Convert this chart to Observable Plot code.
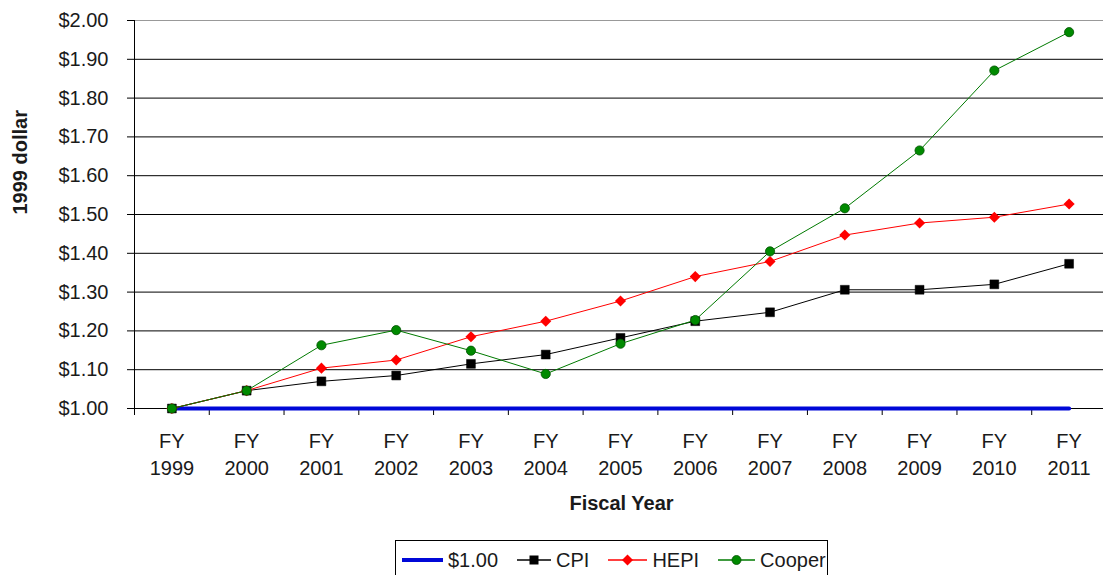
<!DOCTYPE html>
<html>
<head>
<meta charset="utf-8">
<script src="https://cdn.jsdelivr.net/npm/d3@7"></script>
<script src="https://cdn.jsdelivr.net/npm/@observablehq/plot@0.6"></script>
<style>
  html, body { margin: 0; padding: 0; background: #fff; width: 1103px; height: 575px; overflow: hidden; }
  #wrap { position: relative; width: 1103px; height: 575px; font-family: "Liberation Sans", Arial, sans-serif; }
  #legend { position: absolute; left: 395px; top: 540px; width: 433px; height: 40px; border: 1px solid #000;
            box-sizing: border-box; display: flex; align-items: flex-start; padding: 9px 0 0 6px; font-size: 20px; color: #1a1a1a; }
  #legend .item { display: flex; align-items: center; margin-right: 19px; line-height: 20px; }
  #legend svg { margin-right: 5px; }
</style>
</head>
<body>
<div id="wrap"></div>
<script>
// ---- data ----
const years = ["1999","2000","2001","2002","2003","2004","2005","2006","2007","2008","2009","2010","2011"];
const base = [1.00,1.00,1.00,1.00,1.00,1.00,1.00,1.00,1.00,1.00,1.00,1.00,1.00];
const cpi = [1.000,1.046,1.070,1.085,1.115,1.139,1.182,1.225,1.248,1.306,1.306,1.320,1.373];
const hepi = [1.000,1.046,1.104,1.125,1.185,1.225,1.277,1.340,1.379,1.447,1.478,1.493,1.527];
const cooper = [1.000,1.046,1.163,1.202,1.149,1.089,1.167,1.228,1.405,1.516,1.665,1.871,1.970];
const yTicks = [1.0,1.1,1.2,1.3,1.4,1.5,1.6,1.7,1.8,1.9,2.0];
const seriesNames = ["$1.00","CPI","HEPI","Cooper"];

const rows = (vals, s) => years.map((y, i) => ({year: y, value: vals[i], series: s}));
const dBase = rows(base, "$1.00");
const dCpi = rows(cpi, "CPI");
const dHepi = rows(hepi, "HEPI");
const dCooper = rows(cooper, "Cooper");

const W = 1103, ML = 134, MR = -3;
const step = (W - ML - MR) / years.length;

const blue = "#0008d8", red = "#ff0000", green = "#007a00";

const chart = Plot.plot({
  width: W,
  height: 530,
  marginLeft: ML,
  marginRight: MR,
  marginTop: 20,
  marginBottom: 122,
  style: {fontFamily: "'Liberation Sans', Arial, sans-serif", fontSize: "20px", color: "#1a1a1a", background: "#fff", overflow: "visible"},
  x: {type: "point", domain: years, padding: 0.5, round: false},
  y: {domain: [1, 2]},
  marks: [
    // gridlines
    Plot.ruleY(yTicks.filter(t => t < 2), {y: d => d, stroke: "#000", strokeWidth: 1}),
    Plot.ruleY(yTicks.filter(t => t >= 2), {y: d => d, stroke: "#999", strokeWidth: 1}),
    // y axis
    Plot.axisY({ticks: yTicks, tickSize: 7, tickPadding: 19, tickFormat: d => "$" + d.toFixed(2), fontSize: 20, label: null, stroke: "#000"}),
    Plot.ruleX([years[0]], {x: d => d, y1: 1, y2: 2, dx: -step / 2, stroke: "#000"}),
    // x boundary ticks
    Plot.axisX({ticks: years, tickSize: 7, dx: -step / 2, text: null, label: null, stroke: "#000"}),
    // x labels
    Plot.axisX({ticks: years, tickSize: 0, tickPadding: 20, tickFormat: d => "FY\n" + d, lineHeight: 1.35, fontSize: 20, label: null}),
    // axis titles
    Plot.text(["1999 dollar"], {text: d => d, frameAnchor: "left", dx: -114, rotate: -90, fontWeight: "bold", fontSize: 20}),
    Plot.text(["Fiscal Year"], {text: d => d, frameAnchor: "bottom", dy: 101, dx: 1, fontWeight: "bold", fontSize: 20}),
    // series
    Plot.line(dBase, {x: "year", y: "value", stroke: blue, strokeWidth: 4}),
    Plot.line(dCpi, {x: "year", y: "value", stroke: "#000", strokeWidth: 1}),
    Plot.dot(dCpi, {x: "year", y: "value", symbol: "square", r: 5, fill: "#000", stroke: "#000", strokeWidth: 0.5}),
    Plot.line(dHepi, {x: "year", y: "value", stroke: red, strokeWidth: 1}),
    Plot.dot(dHepi, {x: "year", y: "value", symbol: "diamond2", r: 5, fill: red, stroke: "none"}),
    Plot.line(dCooper, {x: "year", y: "value", stroke: green, strokeWidth: 1}),
    Plot.dot(dCooper, {x: "year", y: "value", symbol: "circle", r: 4.6, fill: "#008a00", stroke: "#005000", strokeWidth: 0.8})
  ]
});

const wrap = document.getElementById("wrap");
wrap.appendChild(chart);

// legend
const legend = document.createElement("div");
legend.id = "legend";
const sym = {
  "$1.00": `<svg width="41" height="12"><line x1="0" y1="6" x2="41" y2="6" stroke="${blue}" stroke-width="4"/></svg>`,
  "CPI": `<svg width="34" height="12"><line x1="0" y1="6" x2="34" y2="6" stroke="#000" stroke-width="1.5"/><rect x="12.5" y="1.5" width="9" height="9" fill="#000"/></svg>`,
  "HEPI": `<svg width="39" height="12"><line x1="0" y1="6" x2="39" y2="6" stroke="${red}" stroke-width="1.5"/><path d="M19.5 0.5 L25 6 L19.5 11.5 L14 6 Z" fill="${red}"/></svg>`,
  "Cooper": `<svg width="37" height="12"><line x1="0" y1="6" x2="37" y2="6" stroke="${green}" stroke-width="1.5"/><circle cx="18.5" cy="6" r="4.5" fill="#008a00" stroke="#005000" stroke-width="0.8"/></svg>`
};
seriesNames.forEach(n => {
  const it = document.createElement("div");
  it.className = "item";
  it.innerHTML = sym[n] + `<span>${n}</span>`;
  legend.appendChild(it);
});
wrap.appendChild(legend);
</script>
</body>
</html>
